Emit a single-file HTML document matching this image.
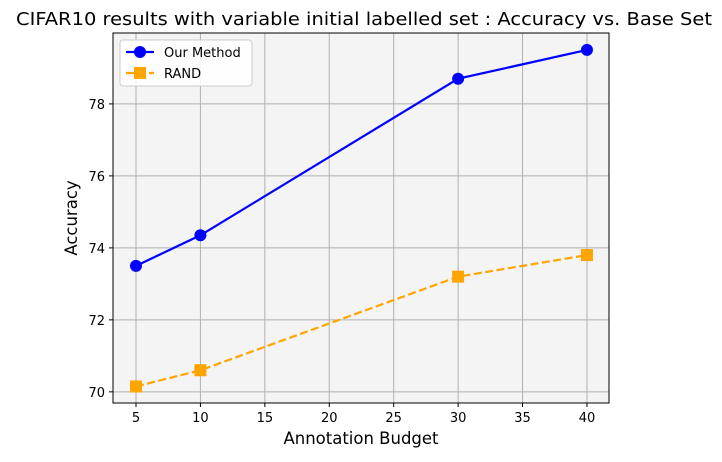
<!DOCTYPE html>
<html><head><meta charset="utf-8"><style>
body{margin:0;background:#fff;}
svg text{font-family:"DejaVu Sans","Liberation Sans",sans-serif;}
</style></head><body>
<svg id="chart" width="722" height="457" xmlns="http://www.w3.org/2000/svg"></svg>
<script>
const budgets=[5,10,30,40];
const ourMethod=[73.5,74.35,78.7,79.5];
const randValues=[70.15,70.6,73.2,73.8];
const xTicks=[5,10,15,20,25,30,35,40];
const yTicks=[70,72,74,76,78];
const svg=document.getElementById('chart');
const NS='http://www.w3.org/2000/svg';
const L=113,R=609,T=33,B=403;
const xMin=3.215,xMax=41.71,yMin=69.69,yMax=79.97;
const xs=v=>L+(v-xMin)/(xMax-xMin)*(R-L);
const ys=v=>B-(v-yMin)/(yMax-yMin)*(B-T);
function mk(tag,attrs,parent){const e=document.createElementNS(NS,tag);for(const k in attrs)e.setAttribute(k,attrs[k]);(parent||svg).appendChild(e);return e;}
const bg=mk('rect',{x:L,y:T,width:R-L,height:B-T,fill:'#f4f4f4'});


xTicks.forEach(t=>{const x=xs(t);
const g=mk('line',{x1:x,x2:x,y1:T,y2:B,stroke:'#b0b0b0','stroke-width':1});

mk('line',{x1:x,x2:x,y1:B,y2:B+4,stroke:'#000'});
const tx=mk('text',{x:x,y:B+19,'text-anchor':'middle','font-size':13});tx.textContent=t;
});
yTicks.forEach(t=>{const y=ys(t);
const g=mk('line',{x1:L,x2:R,y1:y,y2:y,stroke:'#b0b0b0','stroke-width':1});

mk('line',{x1:L-4,x2:L,y1:y,y2:y,stroke:'#000'});
const tx=mk('text',{x:L-8,y:y+5,'text-anchor':'end','font-size':13});tx.textContent=t;
});
const fr=mk('rect',{x:L,y:T,width:R-L,height:B-T,fill:'none',stroke:'#000','stroke-width':1});

const rl=mk('polyline',{points:budgets.map((b,i)=>xs(b)+','+ys(randValues[i])).join(' '),fill:'none',stroke:'#ffa500','stroke-width':2.2,'stroke-dasharray':'8,3.5'});

budgets.forEach((b,i)=>{const m=mk('rect',{x:xs(b)-6,y:ys(randValues[i])-6,width:12,height:12,fill:'#ffa500'});
});
const ol=mk('polyline',{points:budgets.map((b,i)=>xs(b)+','+ys(ourMethod[i])).join(' '),fill:'none',stroke:'#0000ff','stroke-width':2.2});

budgets.forEach((b,i)=>{const m=mk('circle',{cx:xs(b),cy:ys(ourMethod[i]),r:6,fill:'#0000ff'});
});
const title=mk('text',{x:364,y:25,'text-anchor':'middle','font-size':18,textLength:696,lengthAdjust:'spacingAndGlyphs'});title.textContent='CIFAR10 results with variable initial labelled set : Accuracy vs. Base Set';

const xl=mk('text',{x:361,y:444,'text-anchor':'middle','font-size':16.5});xl.textContent='Annotation Budget';

const yl=mk('text',{x:77,y:218,'text-anchor':'middle','font-size':16.5,transform:'rotate(-90 77 218)'});yl.textContent='Accuracy';

const lg=mk('g',{});

mk('rect',{x:120,y:40,width:132,height:46,rx:3,fill:'#fff','fill-opacity':0.85,stroke:'#ccc'},lg);
const e1=mk('g',{},lg);
mk('line',{x1:126,x2:154,y1:52,y2:52,stroke:'#0000ff','stroke-width':2.2},e1);
mk('circle',{cx:140,cy:52,r:6,fill:'#0000ff'},e1);
const t1=mk('text',{x:164,y:57,'font-size':13},e1);t1.textContent='Our Method';
const e2=mk('g',{},lg);
mk('line',{x1:126,x2:154,y1:73,y2:73,stroke:'#ffa500','stroke-width':2.2,'stroke-dasharray':'8,3.5'},e2);
mk('rect',{x:134,y:67,width:12,height:12,fill:'#ffa500'},e2);
const t2=mk('text',{x:164,y:78,'font-size':13},e2);t2.textContent='RAND';
</script>
</body></html>
